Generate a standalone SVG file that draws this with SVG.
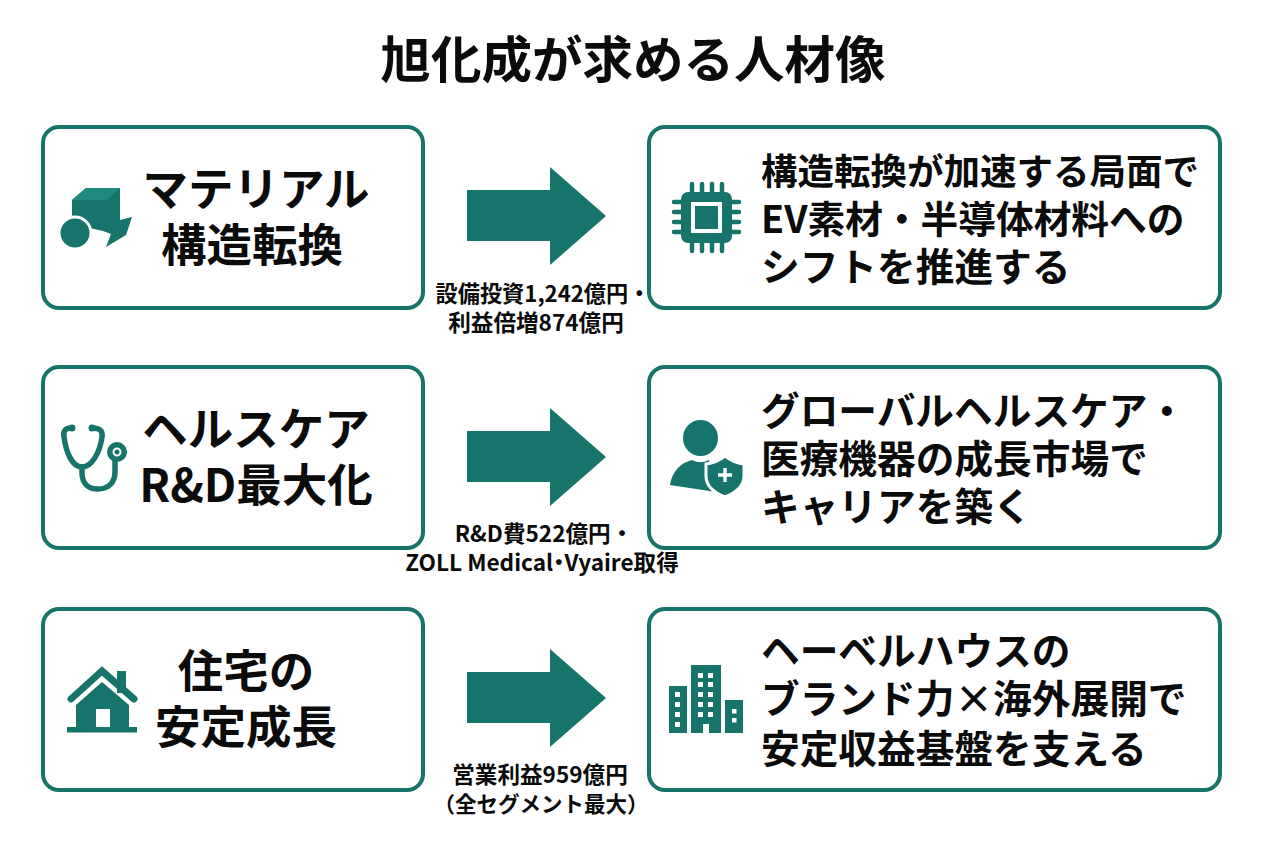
<svg xmlns="http://www.w3.org/2000/svg" width="1264" height="848" viewBox="0 0 1264 848" lang="ja">
<style>
text{font-family:"Noto Sans CJK JP","Noto Sans",sans-serif;font-weight:700;fill:#0b0b0b}
.box{fill:#fff;stroke:#16746b;stroke-width:4}
.t{font-size:50.500px;text-anchor:middle}
.l{font-size:45.500px;text-anchor:middle}
.r{font-size:38.700px}
.s{font-size:22.600px;text-anchor:middle}
.ic{fill:#16746b}
.w{fill:#fff}
.ln{fill:none;stroke:#16746b;stroke-linecap:round}
.arrow{fill:#16746b}
</style>
<defs>
<path id="ar" d="M467 190H550V167L606 216L550 265V241H467Z"/>
</defs>
<rect width="1264" height="848" fill="#fff"/>
<text id="title" class="t" x="633" y="78">旭化成が求める人材像</text>

<g id="connectors" class="arrow">
<use href="#ar"/>
<use href="#ar" y="241"/>
<use href="#ar" y="482"/>
</g>

<g id="node-left-1">
<rect class="box" x="43" y="127" width="380" height="181" rx="16"/>
<path class="ic" d="M72 200L86 188H120V220L132 217L126 235L106 247L111 234L103 231L72 224Z"/>
<path fill="#1f8a7e" d="M72 200L86 188H120L107 200Z"/>
<circle cx="75" cy="233" r="16" class="ic" stroke="#fff" stroke-width="3"/>
<text class="l" x="256" y="206">マテリアル</text>
<text class="l" x="252" y="262">構造転換</text>
</g>

<g id="node-right-1">
<rect class="box" x="649" y="127" width="571" height="181" rx="16"/>
<rect class="ic" x="681" y="192" width="51" height="51" rx="7"/>
<path class="ln" stroke-width="4.500" d="M692 184v8M702 184v8M712 184v8M722 184v8M692 243v8M702 243v8M712 243v8M722 243v8M674 202h7M674 212h7M674 222h7M674 232h7M732 202h7M732 212h7M732 222h7M732 232h7"/>
<rect x="693" y="204" width="27" height="27" fill="none" stroke="#fff" stroke-width="4"/>
<text class="r" x="761" y="185" style="font-size:36.500px">構造転換が加速する局面で</text>
<text class="r" x="761" y="233" style="font-size:37.700px">EV素材・半導体材料への</text>
<text class="r" x="761" y="281">シフトを推進する</text>
</g>

<text class="s" x="543" y="302" style="font-size:22.200px">設備投資1,242億円・</text>
<text class="s" x="536" y="331">利益倍増874億円</text>

<g id="node-left-2">
<rect class="box" x="43" y="367" width="380" height="181" rx="16"/>
<path class="ln" stroke-width="5.500" d="M72 428C65 428 63 431 64 437C66 452 72 467 82 467C92 467 100 452 102 437C103 431 100 428 92 428"/>
<path class="ln" stroke-width="5.500" d="M82 467V473C82 484 89 489 98 489C108 489 115 483 115 472V460"/>
<circle cx="72" cy="428" r="3.500" class="ic"/><circle cx="92" cy="428" r="3.500" class="ic"/>
<circle cx="117" cy="452" r="10" class="ic"/>
<circle cx="117" cy="452" r="3.500" class="ic" stroke="#fff" stroke-width="2"/>
<text class="l" x="256" y="446">ヘルスケア</text>
<text class="l" x="256" y="502">R&amp;D最大化</text>
</g>

<g id="node-right-2">
<rect class="box" x="649" y="367" width="571" height="181" rx="16"/>
<ellipse class="ic" cx="700.500" cy="438" rx="17.500" ry="18"/>
<path class="ic" d="M670 485C672 472 680 463 692 460C698 463 703 463 709 460L716 492Z"/>
<path class="ic" stroke="#fff" stroke-width="3" d="M706 464C714 463 720 460 725 456C730 460 736 463 744 464V476C744 486 735 493 725 497C715 493 706 486 706 476Z"/>
<path class="w" d="M723.300 468h3.400v5.300h5.300v3.400h-5.300v5.300h-3.400v-5.300h-5.300v-3.400h5.300z"/>
<text class="r" x="761" y="425">グローバルヘルスケア・</text>
<text class="r" x="761" y="473">医療機器の成長市場で</text>
<text class="r" x="761" y="521">キャリアを築く</text>
</g>

<text class="s" x="544" y="542">R&amp;D費522億円・</text>
<text class="s" x="542" y="571" style="font-feature-settings:'palt'">ZOLL Medical・Vyaire取得</text>

<g id="node-left-3">
<rect class="box" x="43" y="609" width="380" height="181" rx="16"/>
<rect class="ic" x="117" y="671" width="9" height="22"/>
<path class="ln" stroke-width="7" d="M71 699L102 671L134 699"/>
<path class="ic" d="M76 705L102 682L129 705V727H76Z"/>
<rect x="67" y="727" width="70" height="5.500" class="ic"/>
<rect x="96" y="709" width="14" height="18" class="w"/>
<text class="l" x="246" y="688">住宅の</text>
<text class="l" x="246" y="744">安定成長</text>
</g>

<g id="node-right-3">
<rect class="box" x="649" y="609" width="571" height="181" rx="16"/>
<g class="ic"><rect x="669" y="686" width="18" height="47"/><rect x="691" y="665" width="30" height="68"/><rect x="725" y="700" width="18" height="33"/></g>
<g class="w">
<rect x="675" y="692" width="5" height="5"/><rect x="675" y="702" width="5" height="5"/><rect x="675" y="712" width="5" height="5"/><rect x="675" y="722" width="5" height="5"/>
<rect x="698" y="673" width="5" height="5"/><rect x="708" y="673" width="5" height="5"/><rect x="698" y="682" width="5" height="5"/><rect x="708" y="682" width="5" height="5"/><rect x="698" y="692" width="5" height="5"/><rect x="708" y="692" width="5" height="5"/><rect x="698" y="702" width="5" height="5"/><rect x="708" y="702" width="5" height="5"/><rect x="698" y="712" width="5" height="5"/><rect x="708" y="712" width="5" height="5"/>
<rect x="703" y="724" width="6" height="9"/>
<rect x="732" y="709" width="4.500" height="4.500"/><rect x="732" y="718" width="4.500" height="4.500"/>
</g>
<text class="r" x="761" y="665">ヘーベルハウスの</text>
<text class="r" x="761" y="713">ブランド力×海外展開で</text>
<text class="r" x="761" y="763">安定収益基盤を支える</text>
</g>

<text class="s" x="540" y="783">営業利益959億円</text>
<text class="s" x="541" y="812" style="font-size:21.500px">（全セグメント最大）</text>
</svg>
